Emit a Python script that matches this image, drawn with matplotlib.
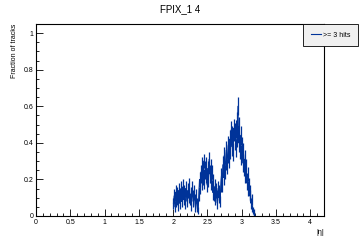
import matplotlib
matplotlib.use("Agg")
import matplotlib.pyplot as plt
import numpy as np
from matplotlib.ticker import MultipleLocator

# bin centres in |eta| (bin width 0.01), fraction of tracks and its error
eta_start = 2.005
frac = [
    0.07, 0.11, 0.05, 0.13, 0.08, 0.12, 0.06, 0.10, 0.14, 0.07,
    0.11, 0.15, 0.08, 0.12, 0.16, 0.09, 0.13, 0.07, 0.15, 0.11,
    0.08, 0.14, 0.10, 0.17, 0.09, 0.12, 0.06, 0.15, 0.11, 0.08,
    0.13, 0.09, 0.05, 0.11, 0.07, 0.04, 0.03, 0.12, 0.20, 0.16,
    0.24, 0.18, 0.27, 0.21, 0.30, 0.19, 0.25, 0.22, 0.28, 0.17,
    0.26, 0.20, 0.31, 0.23, 0.27, 0.18, 0.24, 0.13, 0.19, 0.11,
    0.16, 0.09, 0.14, 0.11, 0.07, 0.15, 0.10, 0.13, 0.08, 0.17,
    0.22, 0.17, 0.28, 0.21, 0.33, 0.24, 0.30, 0.36, 0.27, 0.34,
    0.39, 0.31, 0.42, 0.36, 0.47, 0.38, 0.44, 0.35, 0.48, 0.41,
    0.46, 0.37, 0.52, 0.43, 0.60, 0.40, 0.49, 0.36, 0.44, 0.33,
    0.38, 0.29, 0.35, 0.26, 0.31, 0.22, 0.27, 0.18, 0.23, 0.15,
    0.17, 0.11, 0.13, 0.07, 0.09, 0.04, 0.03, 0.02, 0.01, 0.00,
]
err = [
    0.03, 0.04, 0.03, 0.04, 0.03, 0.04, 0.03, 0.03, 0.04, 0.03,
    0.03, 0.04, 0.03, 0.04, 0.04, 0.03, 0.04, 0.03, 0.04, 0.03,
    0.03, 0.04, 0.03, 0.04, 0.03, 0.04, 0.03, 0.04, 0.03, 0.03,
    0.04, 0.03, 0.03, 0.04, 0.03, 0.02, 0.02, 0.04, 0.04, 0.04,
    0.04, 0.04, 0.05, 0.04, 0.04, 0.04, 0.05, 0.04, 0.04, 0.04,
    0.04, 0.04, 0.04, 0.05, 0.04, 0.04, 0.04, 0.04, 0.04, 0.03,
    0.04, 0.03, 0.04, 0.03, 0.03, 0.04, 0.03, 0.04, 0.03, 0.04,
    0.04, 0.04, 0.05, 0.04, 0.05, 0.04, 0.05, 0.05, 0.04, 0.05,
    0.05, 0.05, 0.05, 0.05, 0.05, 0.05, 0.05, 0.05, 0.05, 0.05,
    0.05, 0.05, 0.05, 0.05, 0.05, 0.05, 0.05, 0.05, 0.05, 0.05,
    0.05, 0.05, 0.05, 0.04, 0.05, 0.04, 0.04, 0.04, 0.04, 0.04,
    0.04, 0.03, 0.04, 0.03, 0.03, 0.02, 0.02, 0.02, 0.01, 0.00,
]
eta = eta_start + 0.01 * np.arange(len(frac))

plt.rcParams['font.family'] = ['Liberation Sans', 'DejaVu Sans']

fig = plt.figure(figsize=(3.6, 2.4), dpi=100)
ax = fig.add_axes([0.1, 0.1, 0.8, 0.8])

eb = ax.errorbar(eta, frac, yerr=err, color="#003399", lw=0.8, elinewidth=0.9,
                 capsize=0, label=">= 3 hits")

ax.set_xlim(0, 4.2)
ax.set_ylim(0, 1.05)
ax.xaxis.set_major_locator(MultipleLocator(0.5))
ax.xaxis.set_minor_locator(MultipleLocator(0.1))
ax.yaxis.set_major_locator(MultipleLocator(0.2))
ax.yaxis.set_minor_locator(MultipleLocator(0.05))
ax.tick_params(which="both", direction="in", top=False, right=False, labelsize=5, pad=2)
ax.tick_params(which="major", length=5, width=0.6)
ax.tick_params(which="minor", length=2.5, width=0.6)
ax.set_xticklabels([f"{t:g}" for t in ax.get_xticks()])
ax.set_yticklabels([f"{t:g}" for t in ax.get_yticks()])
for s in ax.spines.values():
    s.set_linewidth(0.8)

fig.text(0.5, 0.962, "FPIX_1 4", ha="center", va="center", fontsize=7)
ax.set_ylabel("Fraction of tracks", fontsize=5, loc="top", labelpad=4)
ax.set_xlabel("|\u03b7|", fontsize=5, loc="right", labelpad=2)

leg = fig.legend(handles=[eb.lines[0]], labels=[">= 3 hits"], loc="upper right",
                 bbox_to_anchor=(0.995, 0.9), borderaxespad=0,
                 fontsize=5, fancybox=False, framealpha=1, facecolor="#f0f0f0",
                 edgecolor="black", handlelength=1.5, borderpad=1.1, handletextpad=0.3)
leg.get_frame().set_linewidth(0.6)

fig.savefig("out.png", dpi=100)
